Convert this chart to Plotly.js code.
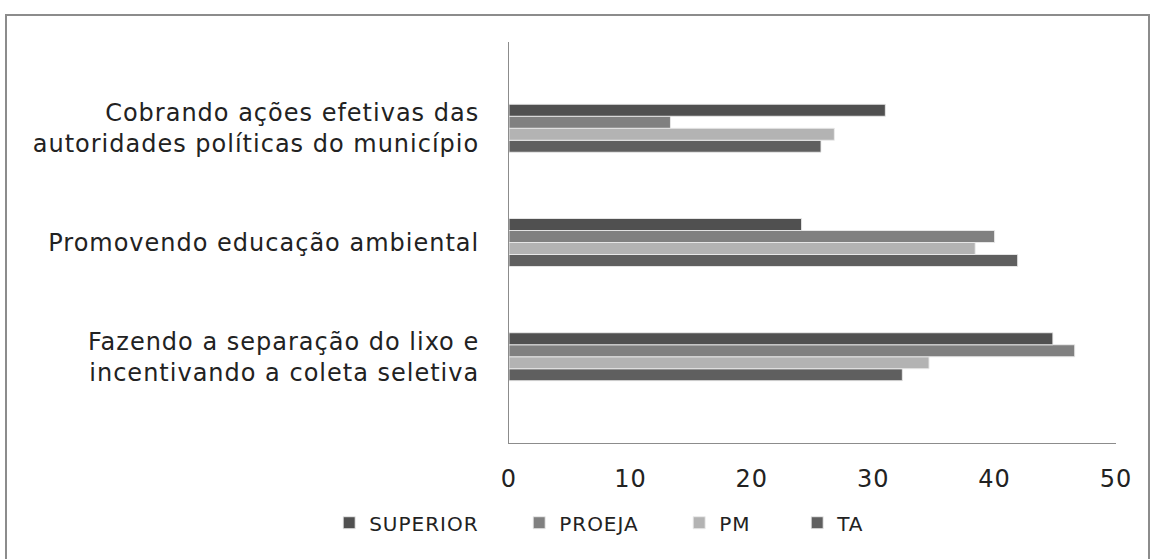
<!DOCTYPE html>
<html>
<head>
<meta charset="utf-8">
<script src="https://cdn.plot.ly/plotly-3.0.1.min.js"></script>
<style>
  html, body { margin: 0; padding: 0; background: #ffffff; overflow: hidden; }
  #frame { position: absolute; left: 5px; top: 14px; width: 1145px; height: 600px; border: 2px solid #8c8c8c; box-sizing: border-box; }
  #chart { position: absolute; left: 0; top: 0; width: 1155px; height: 559px; }
  #chart svg text { letter-spacing: 1px; }
</style>
</head>
<body>
<div id="frame"></div>
<div id="chart"></div>
<script>
const categories = [
  "Fazendo a separação do lixo e<br>incentivando a coleta seletiva",
  "Promovendo educação ambiental",
  "Cobrando ações efetivas das<br>autoridades políticas do município"
];
const seriesNames = ["SUPERIOR", "PROEJA", "PM", "TA"];
const superior = [44.8, 24.1, 31.0];
const proeja   = [46.6, 40.0, 13.3];
const pm       = [34.6, 38.4, 26.8];
const ta       = [32.4, 41.9, 25.7];
const xTicks = [0, 10, 20, 30, 40, 50];

const colors = { SUPERIOR: "#505050", PROEJA: "#808080", PM: "#b3b3b3", TA: "#5f5f5f" };
const values = { SUPERIOR: superior, PROEJA: proeja, PM: pm, TA: ta };
const legendWidths = { SUPERIOR: 145, PROEJA: 115, PM: 73, TA: 30 };

const FONT = "DejaVu Sans, sans-serif";

// plotly places horizontal group bars bottom-up; add in reverse order
const traces = seriesNames.slice().reverse().map(name => ({
  type: "bar",
  orientation: "h",
  name: name,
  y: categories,
  x: values[name],
  legendwidth: legendWidths[name],
  marker: { color: colors[name], line: { color: "rgba(235,235,235,0.9)", width: 1 } },
  hoverinfo: "x+name"
}));

const layout = {
  width: 1155,
  height: 559,
  margin: { l: 509, r: 39, t: 42, b: 116 },
  paper_bgcolor: "rgba(0,0,0,0)",
  plot_bgcolor: "rgba(0,0,0,0)",
  barmode: "group",
  bargap: 0.58,
  bargroupgap: 0,
  font: { family: FONT, color: "#222222" },
  xaxis: {
    range: [0, 50],
    tickvals: xTicks,
    ticktext: xTicks.map(String),
    showgrid: false,
    zeroline: false,
    showline: true,
    linecolor: "#8c8c8c",
    linewidth: 1,
    ticks: "",
    tickfont: { size: 24, family: FONT, color: "#222222" },
    ticklabelstandoff: 14,
    fixedrange: true
  },
  yaxis: {
    type: "category",
    range: [-0.755, 2.755],
    showgrid: false,
    zeroline: false,
    showline: true,
    linecolor: "#8c8c8c",
    linewidth: 1,
    ticks: "",
    tickfont: { size: 24, family: FONT, color: "#222222" },
    ticklabelstandoff: 24,
    fixedrange: true
  },
  legend: {
    orientation: "h",
    traceorder: "reversed",
    x: 0.285, xref: "container", xanchor: "left",
    y: 0.03, yref: "container", yanchor: "bottom",
    font: { size: 20, family: FONT, color: "#222222" },
    itemwidth: 30,
    bgcolor: "rgba(0,0,0,0)"
  },
  showlegend: true
};

Plotly.newPlot("chart", traces, layout, { displayModeBar: false, staticPlot: true });
</script>
</body>
</html>
